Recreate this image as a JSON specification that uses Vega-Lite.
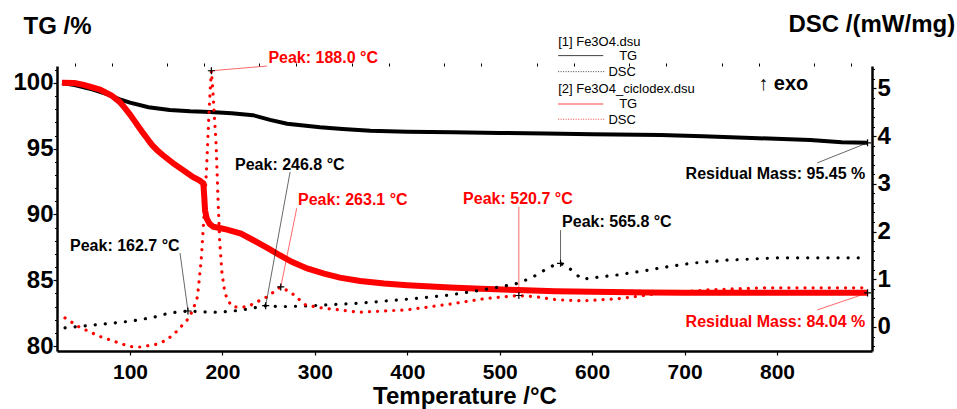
{
  "$schema": "https://vega.github.io/schema/vega-lite/v6.json",
  "width": 815,
  "height": 285,
  "autosize": "none",
  "padding": {"left": 57, "top": 66, "right": 85, "bottom": 58},
  "background": "white",
  "config": {"view": {"stroke": null}, "font": "Liberation Sans", "axis": {"labelOverlap": false, "labelFlush": false, "labelBound": false, "grid": false}},
  "datasets": {
    "tg": [
      {"s":"Fe3O4","T":26.4,"tg":100.0},{"s":"Fe3O4","T":40,"tg":99.85},{"s":"Fe3O4","T":60,"tg":99.5},{"s":"Fe3O4","T":75,"tg":99.15},{"s":"Fe3O4","T":89,"tg":98.76},{"s":"Fe3O4","T":100,"tg":98.5},{"s":"Fe3O4","T":120,"tg":98.15},{"s":"Fe3O4","T":143,"tg":97.95},{"s":"Fe3O4","T":165,"tg":97.85},{"s":"Fe3O4","T":187,"tg":97.8},{"s":"Fe3O4","T":210,"tg":97.7},{"s":"Fe3O4","T":233,"tg":97.55},{"s":"Fe3O4","T":251.5,"tg":97.19},{"s":"Fe3O4","T":270,"tg":96.9},{"s":"Fe3O4","T":305.6,"tg":96.63},{"s":"Fe3O4","T":330,"tg":96.5},{"s":"Fe3O4","T":360,"tg":96.37},{"s":"Fe3O4","T":400,"tg":96.3},{"s":"Fe3O4","T":450,"tg":96.25},{"s":"Fe3O4","T":500,"tg":96.2},{"s":"Fe3O4","T":550,"tg":96.15},{"s":"Fe3O4","T":600,"tg":96.1},{"s":"Fe3O4","T":674,"tg":96.05},{"s":"Fe3O4","T":720,"tg":95.95},{"s":"Fe3O4","T":780,"tg":95.8},{"s":"Fe3O4","T":836,"tg":95.67},{"s":"Fe3O4","T":870,"tg":95.5},{"s":"Fe3O4","T":898,"tg":95.45},
      {"s":"Fe3O4_ciclodex","T":26.4,"tg":100.02},{"s":"Fe3O4_ciclodex","T":40,"tg":100.0},{"s":"Fe3O4_ciclodex","T":50,"tg":99.85},{"s":"Fe3O4_ciclodex","T":67.5,"tg":99.5},{"s":"Fe3O4_ciclodex","T":80,"tg":99.05},{"s":"Fe3O4_ciclodex","T":89,"tg":98.55},{"s":"Fe3O4_ciclodex","T":95,"tg":98.05},{"s":"Fe3O4_ciclodex","T":100,"tg":97.6},{"s":"Fe3O4_ciclodex","T":105,"tg":97.1},{"s":"Fe3O4_ciclodex","T":110,"tg":96.6},{"s":"Fe3O4_ciclodex","T":114,"tg":96.2},{"s":"Fe3O4_ciclodex","T":118.4,"tg":95.8},{"s":"Fe3O4_ciclodex","T":122,"tg":95.45},{"s":"Fe3O4_ciclodex","T":125,"tg":95.2},{"s":"Fe3O4_ciclodex","T":130,"tg":94.85},{"s":"Fe3O4_ciclodex","T":135.7,"tg":94.5},{"s":"Fe3O4_ciclodex","T":146.5,"tg":93.9},{"s":"Fe3O4_ciclodex","T":158,"tg":93.35},{"s":"Fe3O4_ciclodex","T":168,"tg":92.85},{"s":"Fe3O4_ciclodex","T":175,"tg":92.6},{"s":"Fe3O4_ciclodex","T":179.3,"tg":92.37},{"s":"Fe3O4_ciclodex","T":180.2,"tg":91.5},{"s":"Fe3O4_ciclodex","T":181.2,"tg":90.3},{"s":"Fe3O4_ciclodex","T":183,"tg":89.7},{"s":"Fe3O4_ciclodex","T":186,"tg":89.3},{"s":"Fe3O4_ciclodex","T":190,"tg":89.07},{"s":"Fe3O4_ciclodex","T":198,"tg":88.95},{"s":"Fe3O4_ciclodex","T":205,"tg":88.85},{"s":"Fe3O4_ciclodex","T":220,"tg":88.55},{"s":"Fe3O4_ciclodex","T":233,"tg":88.06},{"s":"Fe3O4_ciclodex","T":250,"tg":87.4},{"s":"Fe3O4_ciclodex","T":262,"tg":86.9},{"s":"Fe3O4_ciclodex","T":275,"tg":86.4},{"s":"Fe3O4_ciclodex","T":291.6,"tg":85.9},{"s":"Fe3O4_ciclodex","T":310,"tg":85.5},{"s":"Fe3O4_ciclodex","T":327,"tg":85.2},{"s":"Fe3O4_ciclodex","T":349,"tg":84.94},{"s":"Fe3O4_ciclodex","T":375,"tg":84.75},{"s":"Fe3O4_ciclodex","T":400,"tg":84.62},{"s":"Fe3O4_ciclodex","T":446,"tg":84.45},{"s":"Fe3O4_ciclodex","T":480,"tg":84.35},{"s":"Fe3O4_ciclodex","T":520,"tg":84.25},{"s":"Fe3O4_ciclodex","T":560,"tg":84.17},{"s":"Fe3O4_ciclodex","T":600,"tg":84.12},{"s":"Fe3O4_ciclodex","T":663,"tg":84.06},{"s":"Fe3O4_ciclodex","T":700,"tg":84.05},{"s":"Fe3O4_ciclodex","T":800,"tg":84.04},{"s":"Fe3O4_ciclodex","T":898,"tg":84.04}
    ],
    "dsc": [
      {"s":"Fe3O4","T":29.7,"dsc":-0.02},{"s":"Fe3O4","T":50,"dsc":0.02},{"s":"Fe3O4","T":75,"dsc":0.07},{"s":"Fe3O4","T":100,"dsc":0.12},{"s":"Fe3O4","T":125,"dsc":0.2},{"s":"Fe3O4","T":140,"dsc":0.28},{"s":"Fe3O4","T":150,"dsc":0.31},{"s":"Fe3O4","T":162.7,"dsc":0.335},{"s":"Fe3O4","T":175,"dsc":0.32},{"s":"Fe3O4","T":194,"dsc":0.31},{"s":"Fe3O4","T":210,"dsc":0.33},{"s":"Fe3O4","T":225,"dsc":0.37},{"s":"Fe3O4","T":240,"dsc":0.42},{"s":"Fe3O4","T":246.8,"dsc":0.447},{"s":"Fe3O4","T":260,"dsc":0.43},{"s":"Fe3O4","T":273,"dsc":0.43},{"s":"Fe3O4","T":300,"dsc":0.45},{"s":"Fe3O4","T":330,"dsc":0.48},{"s":"Fe3O4","T":349,"dsc":0.5},{"s":"Fe3O4","T":380,"dsc":0.55},{"s":"Fe3O4","T":410,"dsc":0.6},{"s":"Fe3O4","T":446,"dsc":0.67},{"s":"Fe3O4","T":482,"dsc":0.78},{"s":"Fe3O4","T":500,"dsc":0.84},{"s":"Fe3O4","T":521,"dsc":0.92},{"s":"Fe3O4","T":540,"dsc":1.09},{"s":"Fe3O4","T":554,"dsc":1.26},{"s":"Fe3O4","T":565.8,"dsc":1.335},{"s":"Fe3O4","T":576,"dsc":1.22},{"s":"Fe3O4","T":589,"dsc":1.0},{"s":"Fe3O4","T":601,"dsc":1.03},{"s":"Fe3O4","T":627,"dsc":1.09},{"s":"Fe3O4","T":660,"dsc":1.19},{"s":"Fe3O4","T":674,"dsc":1.24},{"s":"Fe3O4","T":709,"dsc":1.34},{"s":"Fe3O4","T":746,"dsc":1.4},{"s":"Fe3O4","T":800,"dsc":1.45},{"s":"Fe3O4","T":854,"dsc":1.45},{"s":"Fe3O4","T":898,"dsc":1.45},
      {"s":"Fe3O4_ciclodex","T":29.7,"dsc":0.19},{"s":"Fe3O4_ciclodex","T":45,"dsc":0.0},{"s":"Fe3O4_ciclodex","T":67.5,"dsc":-0.2},{"s":"Fe3O4_ciclodex","T":89,"dsc":-0.34},{"s":"Fe3O4_ciclodex","T":100,"dsc":-0.41},{"s":"Fe3O4_ciclodex","T":111,"dsc":-0.42},{"s":"Fe3O4_ciclodex","T":129,"dsc":-0.36},{"s":"Fe3O4_ciclodex","T":140,"dsc":-0.27},{"s":"Fe3O4_ciclodex","T":150,"dsc":-0.1},{"s":"Fe3O4_ciclodex","T":162,"dsc":0.15},{"s":"Fe3O4_ciclodex","T":168,"dsc":0.35},{"s":"Fe3O4_ciclodex","T":173,"dsc":0.63},{"s":"Fe3O4_ciclodex","T":177,"dsc":1.4},{"s":"Fe3O4_ciclodex","T":180,"dsc":2.3},{"s":"Fe3O4_ciclodex","T":183,"dsc":3.4},{"s":"Fe3O4_ciclodex","T":185,"dsc":4.3},{"s":"Fe3O4_ciclodex","T":186.5,"dsc":4.9},{"s":"Fe3O4_ciclodex","T":188,"dsc":5.37},{"s":"Fe3O4_ciclodex","T":189.5,"dsc":5.0},{"s":"Fe3O4_ciclodex","T":191,"dsc":4.5},{"s":"Fe3O4_ciclodex","T":193,"dsc":3.9},{"s":"Fe3O4_ciclodex","T":195,"dsc":2.8},{"s":"Fe3O4_ciclodex","T":197,"dsc":1.8},{"s":"Fe3O4_ciclodex","T":199.5,"dsc":1.13},{"s":"Fe3O4_ciclodex","T":202,"dsc":0.8},{"s":"Fe3O4_ciclodex","T":205,"dsc":0.57},{"s":"Fe3O4_ciclodex","T":211.5,"dsc":0.42},{"s":"Fe3O4_ciclodex","T":226.7,"dsc":0.42},{"s":"Fe3O4_ciclodex","T":248,"dsc":0.63},{"s":"Fe3O4_ciclodex","T":263.1,"dsc":0.84},{"s":"Fe3O4_ciclodex","T":275,"dsc":0.71},{"s":"Fe3O4_ciclodex","T":290,"dsc":0.46},{"s":"Fe3O4_ciclodex","T":307.5,"dsc":0.4},{"s":"Fe3O4_ciclodex","T":347.6,"dsc":0.31},{"s":"Fe3O4_ciclodex","T":400,"dsc":0.36},{"s":"Fe3O4_ciclodex","T":446,"dsc":0.48},{"s":"Fe3O4_ciclodex","T":482,"dsc":0.59},{"s":"Fe3O4_ciclodex","T":520.7,"dsc":0.66},{"s":"Fe3O4_ciclodex","T":540,"dsc":0.63},{"s":"Fe3O4_ciclodex","T":562,"dsc":0.57},{"s":"Fe3O4_ciclodex","T":590,"dsc":0.55},{"s":"Fe3O4_ciclodex","T":627,"dsc":0.59},{"s":"Fe3O4_ciclodex","T":659.5,"dsc":0.67},{"s":"Fe3O4_ciclodex","T":673.6,"dsc":0.71},{"s":"Fe3O4_ciclodex","T":728,"dsc":0.78},{"s":"Fe3O4_ciclodex","T":782,"dsc":0.82},{"s":"Fe3O4_ciclodex","T":898,"dsc":0.82}
    ],
    "peaks": [
      {"s":"Fe3O4_ciclodex","label":"Peak: 188.0 °C","T":188.0,"d":5.37,"lT":248.3,"ld":5.47,"tT":249.7,"td":5.53},
      {"s":"Fe3O4","label":"Peak: 162.7 °C","T":162.7,"d":0.335,"lT":154.1,"ld":1.55,"tT":35.1,"td":1.6},
      {"s":"Fe3O4","label":"Peak: 246.8 °C","T":246.8,"d":0.447,"lT":273.2,"ld":3.25,"tT":213.6,"td":3.29},
      {"s":"Fe3O4_ciclodex","label":"Peak: 263.1 °C","T":263.1,"d":0.84,"lT":280.4,"ld":2.49,"tT":281.8,"td":2.55},
      {"s":"Fe3O4_ciclodex","label":"Peak: 520.7 °C","T":520.7,"d":0.66,"lT":520.7,"ld":2.52,"tT":460.4,"td":2.58},
      {"s":"Fe3O4","label":"Peak: 565.8 °C","T":565.8,"d":1.335,"lT":565.8,"ld":2.03,"tT":567.5,"td":2.1}
    ],
    "residual": [
      {"s":"Fe3O4","label":"Residual Mass: 95.45 %","T":898,"tg":95.45,"lT":843.5,"ltg":93.92,"tT":895.5,"ttg":92.68},
      {"s":"Fe3O4_ciclodex","label":"Residual Mass: 84.04 %","T":898,"tg":84.04,"lT":843.5,"ltg":82.74,"tT":895.5,"ttg":81.42}
    ],
    "legendText": [
      {"text":"[1] Fe3O4.dsu","T":563.2,"tg":102.84},
      {"text":"TG","T":629.2,"tg":101.75},
      {"text":"DSC","T":617.6,"tg":100.56},
      {"text":"[2] Fe3O4_ciclodex.dsu","T":563.2,"tg":99.22},
      {"text":"TG","T":629.2,"tg":98.08},
      {"text":"DSC","T":617.6,"tg":96.86}
    ],
    "legendLines": [
      {"s":"Fe3O4","kind":"TG","T":563.2,"T2":612.0,"tg":102.08},
      {"s":"Fe3O4","kind":"DSC","T":563.2,"T2":614.0,"tg":100.86},
      {"s":"Fe3O4_ciclodex","kind":"TG","T":563.2,"T2":612.0,"tg":98.4},
      {"s":"Fe3O4_ciclodex","kind":"DSC","T":563.2,"T2":614.0,"tg":97.24}
    ],
    "exo": [{"text":"↑ exo","T":779.7,"d":4.97}]
  },
  "layer": [
    {
      "layer": [
        {
          "data": {"name": "tg"},
          "transform": [{"filter": "datum.s === 'Fe3O4'"}],
          "mark": {"type": "line", "color": "#000000", "strokeWidth": 4},
          "encoding": {
            "x": {"field": "T", "type": "quantitative",
              "scale": {"domain": [21, 902.8], "nice": false, "zero": false},
              "axis": {"title": "Temperature /°C", "grid": false,
                "values": [100,200,300,400,500,600,700,800],
                "domainColor": "#000000", "domainWidth": 2.5, "tickColor": "#000000", "tickWidth": 1.2, "tickSize": 4,
                "labelFont": "Liberation Sans", "labelFontSize": 21, "labelFontWeight": "bold", "labelColor": "#000000",
                "labelPadding": 6, "labelFlush": false, "labelOverlap": false, "labelBound": false,
                "titleFont": "Liberation Sans", "titleFontSize": 24, "titleFontWeight": "bold", "titleColor": "#000000",
                "titleY": 52.5, "titleBaseline": "alphabetic"}},
            "y": {"field": "tg", "type": "quantitative",
              "scale": {"domain": [79.62, 101.29], "nice": false, "zero": false},
              "axis": {"title": "TG /%", "orient": "left", "grid": false,
                "values": [80,85,90,95,100],
                "domainColor": "#000000", "domainWidth": 2.5, "tickColor": "#000000", "tickWidth": 1.2, "tickSize": 4,
                "labelFont": "Liberation Sans", "labelFontSize": 24, "labelFontWeight": "bold", "labelColor": "#000000",
                "labelPadding": 0, "labelFlush": false, "labelOverlap": false, "labelBound": false,
                "titleFont": "Liberation Sans", "titleFontSize": 24, "titleFontWeight": "bold", "titleColor": "#000000",
                "titleAngle": 0, "titleAlign": "left", "titleBaseline": "alphabetic", "titleX": -34, "titleY": -33}}
          }
        },
        {
          "data": {"name": "tg"},
          "transform": [{"filter": "datum.s === 'Fe3O4_ciclodex'"}],
          "mark": {"type": "line", "color": "#ff0000", "strokeWidth": 6},
          "encoding": {
            "x": {"field": "T", "type": "quantitative"},
            "y": {"field": "tg", "type": "quantitative",
              "axis": {"orient": "left", "title": null, "labels": false, "domain": false, "grid": false,
                "values": [81,82,83,84,86,87,88,89,91,92,93,94,96,97,98,99,101],
                "tickColor": "#000000", "tickWidth": 1, "tickSize": 2.5}}
          }
        },
        {
          "data": {"name": "residual"},
          "mark": {"type": "rule", "strokeWidth": 0.8, "opacity": 0.75},
          "encoding": {
            "x": {"field": "lT", "type": "quantitative"},
            "y": {"field": "ltg", "type": "quantitative", "axis": null},
            "x2": {"field": "T"},
            "y2": {"field": "tg"},
            "color": {"field": "s", "type": "nominal", "scale": {"domain": ["Fe3O4", "Fe3O4_ciclodex"], "range": ["#000000", "#ff0000"]}, "legend": null}
          }
        },
        {
          "data": {"name": "residual"},
          "mark": {"type": "point", "shape": "M-1,0L1,0M0,-1L0,1", "size": 50, "filled": false, "stroke": "#000000", "strokeWidth": 1.2, "opacity": 1},
          "encoding": {
            "x": {"field": "T", "type": "quantitative"},
            "y": {"field": "tg", "type": "quantitative", "axis": null}
          }
        },
        {
          "data": {"name": "residual"},
          "mark": {"type": "text", "align": "right", "baseline": "alphabetic", "font": "Liberation Sans", "fontSize": 16, "fontWeight": "bold"},
          "encoding": {
            "x": {"field": "tT", "type": "quantitative"},
            "y": {"field": "ttg", "type": "quantitative", "axis": null},
            "text": {"field": "label"},
            "color": {"field": "s", "type": "nominal", "legend": null}
          }
        },
        {
          "data": {"name": "legendText"},
          "mark": {"type": "text", "align": "left", "baseline": "alphabetic", "font": "Liberation Sans", "fontSize": 13, "color": "#000000"},
          "encoding": {
            "x": {"field": "T", "type": "quantitative"},
            "y": {"field": "tg", "type": "quantitative", "axis": null},
            "text": {"field": "text"}
          }
        },
        {
          "data": {"name": "legendLines"},
          "transform": [{"filter": "datum.kind === 'TG'"}],
          "mark": {"type": "rule", "strokeWidth": 1, "opacity": 0.75},
          "encoding": {
            "x": {"field": "T", "type": "quantitative"},
            "x2": {"field": "T2"},
            "y": {"field": "tg", "type": "quantitative", "axis": null},
            "color": {"field": "s", "type": "nominal", "legend": null}
          }
        },
        {
          "data": {"name": "legendLines"},
          "transform": [{"filter": "datum.kind === 'DSC'"}],
          "mark": {"type": "rule", "strokeWidth": 1, "strokeDash": [1, 1.5], "opacity": 0.75},
          "encoding": {
            "x": {"field": "T", "type": "quantitative"},
            "x2": {"field": "T2"},
            "y": {"field": "tg", "type": "quantitative", "axis": null},
            "color": {"field": "s", "type": "nominal", "legend": null}
          }
        }
      ],
      "resolve": {"axis": {"y": "independent"}}
    },
    {
      "layer": [
        {
          "data": {"name": "dsc"},
          "transform": [{"filter": "datum.s === 'Fe3O4'"}],
          "mark": {"type": "line", "color": "#000000", "strokeWidth": 3.2, "strokeCap": "round", "strokeDash": [0.1, 10]},
          "encoding": {
            "x": {"field": "T", "type": "quantitative",
              "axis": {"title": null, "labels": false, "domain": false, "grid": false,
                "values": [40,60,80,120,140,160,180,220,240,260,280,320,340,360,380,420,440,460,480,520,540,560,580,620,640,660,680,720,740,760,780,820,840,860,880],
                "tickColor": "#000000", "tickWidth": 1, "tickSize": 3}},
            "y": {"field": "dsc", "type": "quantitative",
              "scale": {"domain": [-0.503, 5.47], "nice": false, "zero": false},
              "axis": {"title": "DSC /(mW/mg)", "orient": "right", "grid": false,
                "values": [0,1,2,3,4,5],
                "domainColor": "#000000", "domainWidth": 2.5, "tickColor": "#000000", "tickWidth": 1.2, "tickSize": 4,
                "labelFont": "Liberation Sans", "labelFontSize": 24, "labelFontWeight": "bold", "labelColor": "#000000",
                "labelPadding": 1, "labelFlush": false, "labelOverlap": false, "labelBound": false,
                "titleFont": "Liberation Sans", "titleFontSize": 24, "titleFontWeight": "bold", "titleColor": "#000000",
                "titleAngle": 0, "titleAlign": "left", "titleBaseline": "alphabetic", "titleX": -84, "titleY": -34.5}}
          }
        },
        {
          "data": {"name": "dsc"},
          "transform": [{"filter": "datum.s === 'Fe3O4_ciclodex'"}],
          "mark": {"type": "line", "color": "#ff0000", "strokeWidth": 3.2, "strokeCap": "round", "strokeDash": [0.1, 8]},
          "encoding": {
            "x": {"field": "T", "type": "quantitative"},
            "y": {"field": "dsc", "type": "quantitative",
              "axis": {"orient": "right", "title": null, "labels": false, "domain": false, "grid": false,
                "values": [-0.4,-0.2,0.2,0.4,0.6,0.8,1.2,1.4,1.6,1.8,2.2,2.4,2.6,2.8,3.2,3.4,3.6,3.8,4.2,4.4,4.6,4.8,5.2,5.4],
                "tickColor": "#000000", "tickWidth": 1, "tickSize": 2.5}}
          }
        },
        {
          "data": {"name": "peaks"},
          "mark": {"type": "rule", "strokeWidth": 0.8, "opacity": 0.75},
          "encoding": {
            "x": {"field": "lT", "type": "quantitative"},
            "y": {"field": "ld", "type": "quantitative", "axis": null},
            "x2": {"field": "T"},
            "y2": {"field": "d"},
            "color": {"field": "s", "type": "nominal", "legend": null}
          }
        },
        {
          "data": {"name": "peaks"},
          "mark": {"type": "point", "shape": "M-1,0L1,0M0,-1L0,1", "size": 50, "filled": false, "stroke": "#000000", "strokeWidth": 1.2, "opacity": 1},
          "encoding": {
            "x": {"field": "T", "type": "quantitative"},
            "y": {"field": "d", "type": "quantitative", "axis": null}
          }
        },
        {
          "data": {"name": "peaks"},
          "mark": {"type": "text", "align": "left", "baseline": "alphabetic", "font": "Liberation Sans", "fontSize": 16, "fontWeight": "bold"},
          "encoding": {
            "x": {"field": "tT", "type": "quantitative"},
            "y": {"field": "td", "type": "quantitative", "axis": null},
            "text": {"field": "label"},
            "color": {"field": "s", "type": "nominal", "legend": null}
          }
        },
        {
          "data": {"name": "exo"},
          "mark": {"type": "text", "align": "left", "baseline": "alphabetic", "font": "Liberation Sans", "fontSize": 20, "fontWeight": "bold", "color": "#000000"},
          "encoding": {
            "x": {"field": "T", "type": "quantitative"},
            "y": {"field": "d", "type": "quantitative", "axis": null},
            "text": {"field": "text"}
          }
        }
      ],
      "resolve": {"axis": {"y": "independent"}}
    }
  ],
  "resolve": {"scale": {"y": "independent"}, "axis": {"x": "independent"}}
}
